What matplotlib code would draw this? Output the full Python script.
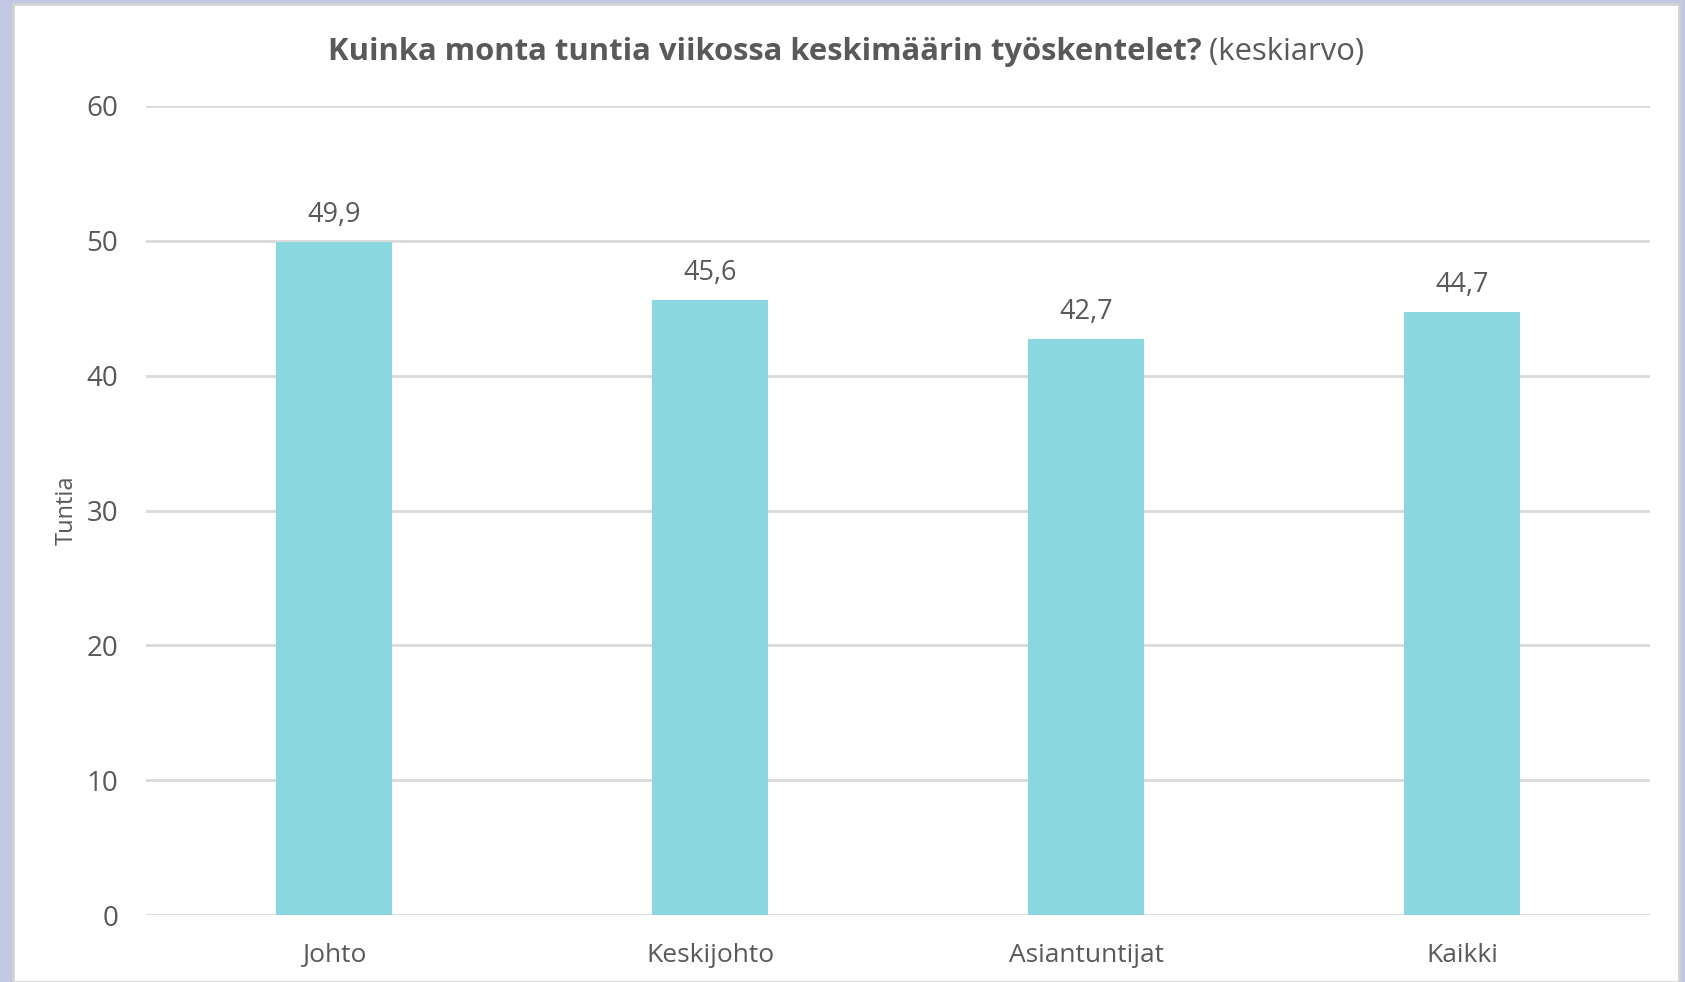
import matplotlib.pyplot as plt
from matplotlib.patches import Rectangle

# data
categories = ['Johto', 'Keskijohto', 'Asiantuntijat', 'Kaikki']
values = [49.9, 45.6, 42.7, 44.7]
labels = ['49,9', '45,6', '42,7', '44,7']
yticks = [0, 10, 20, 30, 40, 50, 60]

TEXT = '#595959'
BAR = '#8AD7E0'
GRID = '#D9D9D9'

plt.rcParams['font.family'] = ['Open Sans', 'DejaVu Sans']

W, H = 1685, 982
fig = plt.figure(figsize=(W / 100, H / 100), dpi=100)
fig.patch.set_facecolor('#C3C6E5')

# white chart area with thin grey frame
fig.patches.append(Rectangle((13 / W, 0), (1679 - 13) / W, 1 - 4 / H,
                             transform=fig.transFigure, facecolor='white',
                             edgecolor='#D4D4D4', linewidth=2, zorder=-1))

ax = fig.add_axes([146 / W, 1 - 915 / H, (1650 - 146) / W, (915 - 106) / H])
ax.set_zorder(2)
ax.set_facecolor('none')

x = range(len(categories))
ax.bar(x, values, width=0.31, color=BAR, zorder=3)
for xi, v, lab in zip(x, values, labels):
    ax.annotate(lab, (xi, v), xytext=(0, 9.5), textcoords='offset points',
                ha='center', va='bottom', fontsize=19.5, color=TEXT)

ax.set_xlim(-0.5, len(categories) - 0.5)
ax.set_ylim(0, 60)
ax.set_yticks(yticks)
ax.set_xticks(list(x))
ax.set_xticklabels(categories)
ax.tick_params(axis='both', length=0, labelcolor=TEXT)
ax.tick_params(axis='y', labelsize=20, pad=20)
ax.tick_params(axis='x', labelsize=19, pad=20.5)
ax.grid(axis='y', color=GRID, linewidth=2, zorder=0)
for s in ax.spines.values():
    s.set_visible(False)

fig.text(67 / W, 1 - 510 / H, 'Tuntia', rotation=90, ha='center', va='center',
         fontsize=17, color=TEXT)

# title: bold question + normal suffix, centred together
title_y = 1 - 52 / H
t1 = fig.text(0, title_y, 'Kuinka monta tuntia viikossa keskimäärin työskentelet?',
              fontsize=22.3, fontweight='bold', color=TEXT, va='center', ha='left')
t2 = fig.text(0, title_y, ' (keskiarvo)', fontsize=22.3, color=TEXT,
              va='center', ha='left')
r = fig.canvas.get_renderer()
w1 = t1.get_window_extent(r).width
w2 = t2.get_window_extent(r).width
start = 846 - (w1 + w2) / 2
t1.set_x(start / W)
t2.set_x((start + w1) / W)

fig.savefig('out.png', dpi=100, facecolor=fig.get_facecolor())
